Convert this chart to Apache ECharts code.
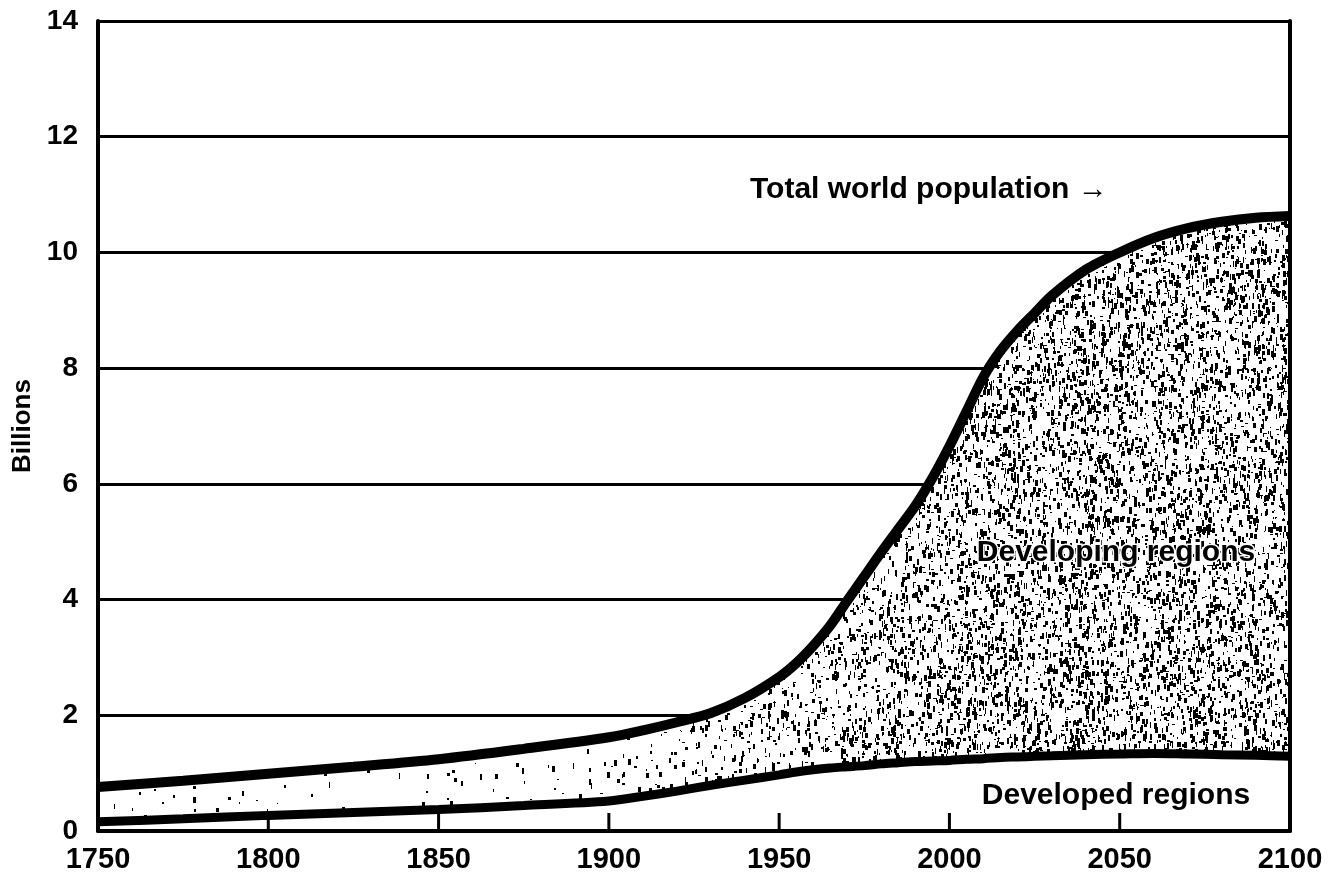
<!DOCTYPE html>
<html>
<head>
<meta charset="utf-8">
<script src="https://cdn.jsdelivr.net/npm/echarts@6/dist/echarts.min.js"></script>
<style>
html,body{margin:0;padding:0;background:#fff;}
#chart{width:1342px;height:895px;}
</style>
</head>
<body>
<div id="chart"></div>
<script>
// ---- data (billions) ----
const years = [1750,1775,1800,1825,1850,1875,1900,1910,1920,1930,1940,1950,1955,1960,1965,1970,1975,1980,1985,1990,1995,2000,2005,2010,2015,2020,2025,2030,2040,2050,2060,2070,2080,2090,2100];
const totalPop = [0.76,0.87,0.99,1.11,1.24,1.42,1.62,1.74,1.88,2.04,2.3,2.66,2.9,3.2,3.55,3.98,4.4,4.82,5.22,5.62,6.1,6.65,7.25,7.85,8.3,8.65,8.95,9.25,9.7,10.0,10.25,10.42,10.53,10.6,10.63];
const developedPop = [0.16,0.21,0.27,0.32,0.37,0.44,0.52,0.60,0.69,0.79,0.88,0.97,1.02,1.06,1.09,1.11,1.13,1.16,1.18,1.20,1.21,1.22,1.24,1.25,1.27,1.28,1.29,1.30,1.32,1.33,1.34,1.33,1.32,1.31,1.29];
const yearTicks = [1750,1800,1850,1900,1950,2000,2050,2100];
const valueTicks = [0,2,4,6,8,10,12,14];
const yAxisTitle = 'Billions';
const labelTotal = 'Total world population \u2192';
const labelDeveloping = 'Developing regions';
const labelDeveloped = 'Developed regions';

const FONT = '"Liberation Sans", Arial, Helvetica, sans-serif';

// stipple texture for the developing-regions band (decorative, deterministic)
function stipple(w, h) {
  const c = document.createElement('canvas');
  c.width = w; c.height = h;
  const g = c.getContext('2d');
  g.fillStyle = '#fff';
  g.fillRect(0, 0, w, h);
  g.fillStyle = '#000';
  let s = 987654321;
  const rnd = () => { s = (Math.imul(s, 1103515245) + 12345) >>> 0; return (s >>> 8) / 16777216; };
  for (let i = 0; i < 42000; i++) {
    const x = 98 + rnd() * 1192;
    const y = rnd() * 831;
    const t = Math.min(1, Math.max(0, (x - 560) / 420));
    const keep = 0.05 + 0.95 * t;
    const a = rnd(), b = rnd(), cc = rnd();
    if (a > keep) continue;
    const dw = 1 + Math.floor(b * 3);
    const dh = 1 + Math.floor(cc * 6);
    g.fillRect(Math.round(x), Math.round(y), dw, dh);
  }
  return c;
}

const chart = echarts.init(document.getElementById('chart'), null, {renderer: 'canvas'});
const pattern = stipple(1342, 895);
const axisLineStyle = {color: '#000', width: 4};
const bandPop = totalPop.map((v, i) => +(v - developedPop[i]).toFixed(3));
// value first, year second, so that stacking works on the value dimension
const rows = vals => years.map((y, i) => [vals[i], y]);
const enc = {x: 1, y: 0};

chart.setOption({
  backgroundColor: '#fff',
  animation: false,
  grid: {left: 98, right: 52, top: 21, bottom: 64},
  xAxis: {
    type: 'value', min: yearTicks[0], max: yearTicks[yearTicks.length - 1], interval: 50, z: 10, zlevel: 1,
    axisLine: {show: true, onZero: false, lineStyle: axisLineStyle},
    axisTick: {show: false},
    axisLabel: {color: '#000', fontSize: 29, fontWeight: 'bold', fontFamily: FONT, margin: 14,
      formatter: v => String(v)},
    splitLine: {show: false}
  },
  yAxis: [
    {
      type: 'value', min: valueTicks[0], max: valueTicks[valueTicks.length - 1], interval: 2, z: 0,
      axisLine: {show: false}, axisTick: {show: false},
      axisLabel: {color: '#000', fontSize: 28, fontWeight: 'bold', fontFamily: FONT, margin: 20,
        formatter: v => String(v)},
      splitLine: {show: true, lineStyle: {color: '#000', width: 3}},
      name: yAxisTitle, nameLocation: 'middle', nameGap: 60,
      nameTextStyle: {color: '#000', fontSize: 26, fontWeight: 'bold', fontFamily: FONT}
    },
    {
      type: 'value', min: 0, max: 14, position: 'left', z: 10, zlevel: 1,
      axisLine: {show: true, onZero: false, lineStyle: axisLineStyle},
      axisTick: {show: false}, axisLabel: {show: false}, splitLine: {show: false}
    },
    {
      type: 'value', min: 0, max: 14, position: 'right', z: 10, zlevel: 1,
      axisLine: {show: true, onZero: false, lineStyle: axisLineStyle},
      axisTick: {show: false}, axisLabel: {show: false}, splitLine: {show: false}
    }
  ],
  series: [
    {
      name: 'Developed regions', type: 'line', yAxisIndex: 0, z: 4, stack: 'pop',
      data: rows(developedPop), encode: enc,
      smooth: 0.3, showSymbol: false, symbol: 'none',
      lineStyle: {color: '#000', width: 9}
    },
    {
      name: 'Developing regions', type: 'line', yAxisIndex: 0, z: 2, stack: 'pop',
      data: rows(bandPop), encode: enc,
      smooth: 0.3, showSymbol: false, symbol: 'none',
      lineStyle: {width: 0},
      areaStyle: {color: {image: pattern, repeat: 'no-repeat'}, opacity: 1}
    },
    {
      name: 'Total world population', type: 'line', yAxisIndex: 0, z: 4,
      data: rows(totalPop), encode: enc,
      smooth: 0.3, showSymbol: false, symbol: 'none',
      lineStyle: {color: '#000', width: 10}
    }
  ]
});

// inward x-axis tick marks, placed through the axis scale, plus the text annotations
const baseY = chart.convertToPixel({yAxisIndex: 0}, valueTicks[0]);
const tickMarks = yearTicks.slice(1, -1).map((yr, i) => {
  const px = chart.convertToPixel({xAxisIndex: 0}, yr);
  return {type: 'line', id: 'tick' + i, z: 30, zlevel: 1,
    shape: {x1: px, y1: baseY, x2: px, y2: baseY - 18},
    style: {stroke: '#000', lineWidth: 3}};
});
const texts = [
  {type: 'text', id: 'tTotal', x: 750, y: 190, z: 20,
    style: {text: labelTotal, font: 'bold 30px ' + FONT, fill: '#000', align: 'left', verticalAlign: 'middle'}},
  {type: 'text', id: 'tDeveloping', x: 1116, y: 553, z: 20,
    style: {text: labelDeveloping, font: 'bold 30px ' + FONT, fill: '#000', align: 'center', verticalAlign: 'middle',
      stroke: '#fff', lineWidth: 3}},
  {type: 'text', id: 'tDeveloped', x: 1116, y: 796, z: 20,
    style: {text: labelDeveloped, font: 'bold 30px ' + FONT, fill: '#000', align: 'center', verticalAlign: 'middle'}}
];
chart.setOption({graphic: texts.concat(tickMarks)});
</script>
</body>
</html>
